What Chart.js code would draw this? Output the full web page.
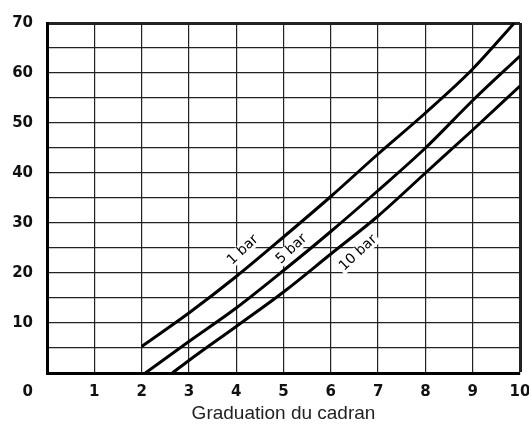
<!DOCTYPE html>
<html lang="fr">
<head>
    <meta charset="UTF-8">
    <title>Graduation du cadran</title>
    <script src="https://cdn.jsdelivr.net/npm/chart.js"></script>
    <style>
        html, body { margin: 0; padding: 0; background: #fff; }
        .wrap { width: 529px; height: 428px; position: relative; }
    </style>
</head>
<body>
    <div class="wrap">
        <canvas id="chart"></canvas>
    </div>

    <script>
        // Courbes (graduation du cadran -> valeur)
        const bar1X  = [2, 3, 4, 5, 6, 7, 8, 9, 9.88];
        const bar1Y  = [5.3, 12, 19.3, 27.2, 35.3, 43.8, 52, 60.8, 70];
        const bar5X  = [2.08, 3, 4, 5, 6, 7, 8, 9, 10];
        const bar5Y  = [0, 6.3, 13, 20.5, 28.3, 36.5, 45, 54.5, 63.4];
        const bar10X = [2.65, 3, 4, 5, 6, 7, 8, 9, 10];
        const bar10Y = [0, 2.5, 9.3, 16.2, 23.8, 31.4, 40, 48.6, 57.4];

        // Etiquettes des courbes (position en unités du graphique)
        const curveLabels = ['1 bar', '5 bar', '10 bar'];
        const labelX = [4.14, 5.17, 6.58];
        const labelY = [24.6, 24.8, 24.0];

        const xTitle = 'Graduation du cadran';

        const toPoints = (xs, ys) => xs.map((x, i) => ({ x: x, y: ys[i] }));

        const tickFont = { family: 'DejaVu Sans', size: 15, weight: 'bold' };

        // Étiquettes inclinées sur les courbes + le "0" de l'origine
        const annotations = {
            id: 'annotations',
            afterDatasetsDraw(chart) {
                const { ctx, scales: { x, y } } = chart;
                ctx.save();
                ctx.font = '14px "DejaVu Sans"';
                ctx.textAlign = 'center';
                ctx.textBaseline = 'middle';
                curveLabels.forEach((txt, i) => {
                    const px = x.getPixelForValue(labelX[i]);
                    const py = y.getPixelForValue(labelY[i]);
                    const w = ctx.measureText(txt).width;
                    ctx.save();
                    ctx.translate(px, py);
                    ctx.rotate(-43 * Math.PI / 180);
                    ctx.fillStyle = '#fff';
                    ctx.fillRect(-w / 2 - 2, -7, w + 4, 14);
                    ctx.fillStyle = '#000';
                    ctx.fillText(txt, 0, 0);
                    ctx.restore();
                });
                // "0" sous la colonne des graduations verticales
                ctx.font = 'bold 15px "DejaVu Sans"';
                ctx.textAlign = 'right';
                ctx.fillStyle = '#111';
                ctx.fillText('0', y.right - 14, x.top + 19);
                ctx.restore();
            }
        };

        const lineStyle = {
            borderColor: '#000',
            borderWidth: 3,
            pointRadius: 0,
            fill: false,
            cubicInterpolationMode: 'monotone'
        };

        const chart = new Chart(document.getElementById('chart'), {
            type: 'line',
            data: {
                datasets: [
                    Object.assign({ label: '1 bar', data: toPoints(bar1X, bar1Y) }, lineStyle),
                    Object.assign({ label: '5 bar', data: toPoints(bar5X, bar5Y) }, lineStyle),
                    Object.assign({ label: '10 bar', data: toPoints(bar10X, bar10Y) }, lineStyle)
                ]
            },
            options: {
                responsive: true,
                maintainAspectRatio: false,
                animation: false,
                layout: { padding: { top: 15, right: 9, left: 0, bottom: 0 } },
                plugins: {
                    legend: { display: false },
                    tooltip: { enabled: false }
                },
                scales: {
                    x: {
                        type: 'linear',
                        min: 0,
                        max: 10,
                        afterFit: (s) => { s.height = 55; s.paddingRight = 0; s.paddingLeft = 0; },
                        ticks: {
                            stepSize: 1,
                            padding: 10,
                            color: '#111',
                            font: tickFont,
                            maxRotation: 0,
                            callback: (v) => v === 0 ? '' : v
                        },
                        grid: {
                            color: '#222',
                            drawTicks: false,
                            lineWidth: (c) => c.tick && c.tick.value === 10 ? 3 : 1.2
                        },
                        border: { color: '#000', width: 3 },
                        title: {
                            display: true,
                            text: xTitle,
                            color: '#222',
                            font: { family: 'Liberation Sans', size: 19 },
                            padding: { top: 2, bottom: 3 }
                        }
                    },
                    y: {
                        min: 0,
                        max: 70,
                        afterFit: (s) => { s.width = 47; },
                        ticks: {
                            stepSize: 5,
                            padding: 14,
                            color: '#111',
                            font: tickFont,
                            callback: (v) => (v % 10 === 0 && v !== 0) ? v : ''
                        },
                        grid: {
                            color: '#222',
                            drawTicks: false,
                            lineWidth: (c) => c.tick && c.tick.value === 70 ? 3 : 1.2
                        },
                        border: { color: '#000', width: 3 }
                    }
                }
            },
            plugins: [annotations]
        });
    </script>
</body>
</html>
